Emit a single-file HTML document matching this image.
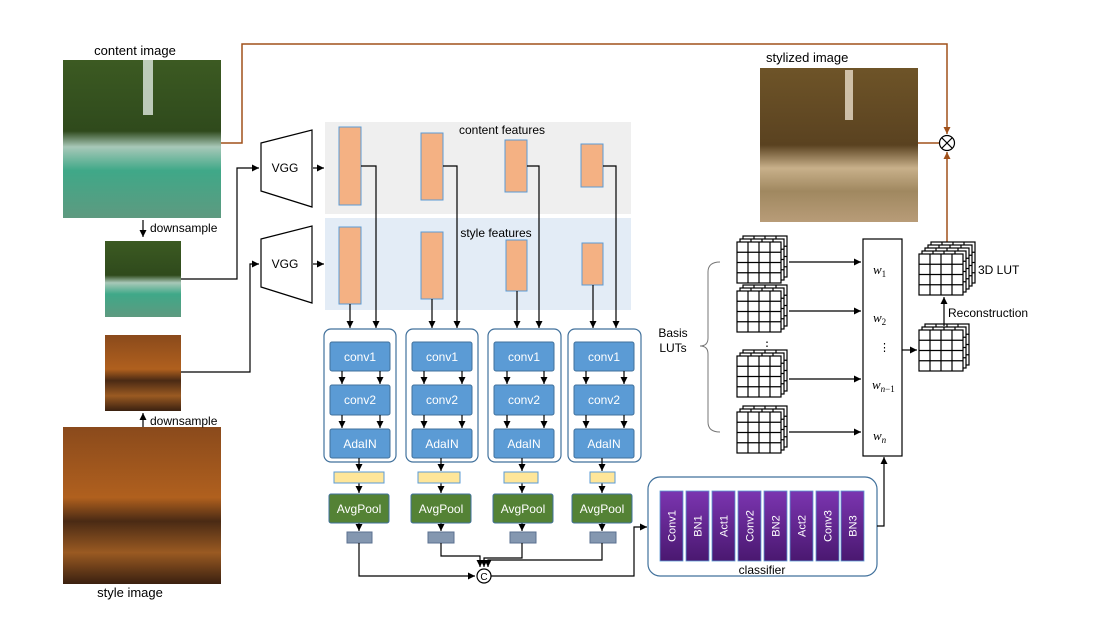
<!DOCTYPE html>
<html><head><meta charset="utf-8"><style>
html,body{margin:0;padding:0;background:#fff;}
svg{display:block;font-family:"Liberation Sans",sans-serif;}
</style></head><body>
<svg width="1116" height="624" viewBox="0 0 1116 624" xmlns="http://www.w3.org/2000/svg">
<defs>
<marker id="a" markerWidth="8" markerHeight="8" refX="7" refY="4" orient="auto" markerUnits="userSpaceOnUse"><path d="M0,0.5 L7,4 L0,7.5z" fill="#000"/></marker>
<marker id="b" markerWidth="8" markerHeight="8" refX="7" refY="4" orient="auto" markerUnits="userSpaceOnUse"><path d="M0,0.5 L7,4 L0,7.5z" fill="#a0501a"/></marker>
<linearGradient id="cimg" x1="0" y1="0" x2="0" y2="1"><stop offset="0" stop-color="#3c5a22"/><stop offset="0.45" stop-color="#2f4a1c"/><stop offset="0.55" stop-color="#a8c8b8"/><stop offset="0.7" stop-color="#3fa888"/><stop offset="1" stop-color="#5e9a80"/></linearGradient>
<linearGradient id="simg" x1="0" y1="0" x2="0" y2="1"><stop offset="0" stop-color="#8a4a1c"/><stop offset="0.45" stop-color="#b0601e"/><stop offset="0.6" stop-color="#4a2a14"/><stop offset="0.8" stop-color="#9a5a22"/><stop offset="1" stop-color="#3a2010"/></linearGradient>
<linearGradient id="timg" x1="0" y1="0" x2="0" y2="1"><stop offset="0" stop-color="#6e5428"/><stop offset="0.5" stop-color="#5a4220"/><stop offset="0.65" stop-color="#c8b08a"/><stop offset="0.8" stop-color="#a08860"/><stop offset="1" stop-color="#b89c78"/></linearGradient>
<linearGradient id="pur" x1="0" y1="0" x2="0" y2="1"><stop offset="0" stop-color="#7b35b0"/><stop offset="1" stop-color="#4a1870"/></linearGradient>
<g id="grid"><rect x="0" y="0" width="44" height="41" fill="#fff" stroke="#000" stroke-width="1.2"/><path d="M11,0V41M22,0V41M33,0V41M0,10.25H44M0,20.5H44M0,30.75H44" stroke="#000" stroke-width="1.2"/></g>
<g id="cube"><use href="#grid" x="6" y="-6"/><use href="#grid" x="3" y="-3"/><use href="#grid" x="0" y="0"/></g>
</defs>

<!-- images -->
<text x="135" y="55" font-size="13" text-anchor="middle">content image</text>
<rect x="63" y="60" width="158" height="158" fill="url(#cimg)"/>
<rect x="143" y="60" width="10" height="55" fill="#dfe8e0" opacity="0.8"/>
<rect x="105" y="241" width="76" height="76" fill="url(#cimg)"/>
<rect x="105" y="335" width="76" height="76" fill="url(#simg)"/>
<rect x="63" y="427" width="158" height="157" fill="url(#simg)"/>
<text x="130" y="597" font-size="13" text-anchor="middle">style image</text>
<line x1="143" y1="220" x2="143" y2="237" stroke="#000" stroke-width="1.2" marker-end="url(#a)"/>
<text x="150" y="232" font-size="12">downsample</text>
<line x1="143" y1="427" x2="143" y2="413" stroke="#000" stroke-width="1.2" marker-end="url(#a)"/>
<text x="150" y="425" font-size="12">downsample</text>

<text x="766" y="62" font-size="13">stylized image</text>
<rect x="760" y="68" width="158" height="154" fill="url(#timg)"/>
<rect x="845" y="70" width="8" height="50" fill="#e8dcc8" opacity="0.8"/>

<!-- brown path -->
<polyline points="221,143 242,143 242,44 947,44 947,134" fill="none" stroke="#a0501a" stroke-width="1.5" marker-end="url(#b)"/>
<line x1="918" y1="143" x2="940" y2="143" stroke="#a0501a" stroke-width="1.5"/>
<line x1="947" y1="248" x2="947" y2="152" stroke="#a0501a" stroke-width="1.5" marker-end="url(#b)"/>
<circle cx="947" cy="143" r="7.5" fill="#fff" stroke="#000" stroke-width="1.2"/>
<path d="M941.7,137.7L952.3,148.3M952.3,137.7L941.7,148.3" stroke="#000" stroke-width="1.1"/>

<!-- inputs to VGG -->
<polyline points="181,279 237,279 237,168 259,168" fill="none" stroke="#000" stroke-width="1.2" marker-end="url(#a)"/>
<polyline points="181,372 250,372 250,264 259,264" fill="none" stroke="#000" stroke-width="1.2" marker-end="url(#a)"/>
<polygon points="261,143 312,130 312,207 261,191" fill="#fff" stroke="#000" stroke-width="1.2"/>
<text x="285" y="172" font-size="12" text-anchor="middle">VGG</text>
<polygon points="261,239 312,226 312,303 261,287" fill="#fff" stroke="#000" stroke-width="1.2"/>
<text x="285" y="268" font-size="12" text-anchor="middle">VGG</text>
<line x1="313" y1="168" x2="324" y2="168" stroke="#000" stroke-width="1.2" marker-end="url(#a)"/>
<line x1="313" y1="264" x2="324" y2="264" stroke="#000" stroke-width="1.2" marker-end="url(#a)"/>

<!-- feature panels -->
<rect x="325" y="122" width="306" height="92" fill="#efefef"/>
<rect x="325" y="218" width="306" height="92" fill="#e3ecf6"/>
<text x="502" y="134" font-size="12" text-anchor="middle">content features</text>
<text x="496" y="237" font-size="12" text-anchor="middle">style features</text>
<g fill="#f4b183" stroke="#5b9bd5" stroke-width="1">
<rect x="339" y="127" width="22" height="78"/><rect x="421" y="133" width="22" height="67"/><rect x="505" y="140" width="22" height="52"/><rect x="581" y="144" width="22" height="43"/>
<rect x="339" y="227" width="22" height="77"/><rect x="421" y="232" width="22" height="67"/><rect x="506" y="240" width="21" height="51"/><rect x="582" y="243" width="21" height="42"/>
</g>
<g fill="none" stroke="#000" stroke-width="1.2" marker-end="url(#a)">
<polyline points="361,166 376,166 376,328"/><polyline points="443,166 457,166 457,328"/><polyline points="527,166 539,166 539,328"/><polyline points="603,166 616,166 616,328"/>
<line x1="350" y1="304" x2="350" y2="328"/><line x1="432" y1="299" x2="432" y2="328"/><line x1="517" y1="291" x2="517" y2="328"/><line x1="593" y1="285" x2="593" y2="328"/>
</g>

<!-- modules -->
<g fill="none" stroke="#41719c" stroke-width="1.2">
<rect x="324" y="329" width="72" height="133" rx="7"/><rect x="406" y="329" width="72" height="133" rx="7"/><rect x="488" y="329" width="73" height="133" rx="7"/><rect x="568" y="329" width="73" height="133" rx="7"/>
</g>
<g fill="#5b9bd5" stroke="#41719c" stroke-width="1">
<rect x="330" y="342" width="60" height="29" rx="2"/><rect x="330" y="385" width="60" height="30" rx="2"/><rect x="330" y="429" width="60" height="29" rx="2"/>
<rect x="412" y="342" width="60" height="29" rx="2"/><rect x="412" y="385" width="60" height="30" rx="2"/><rect x="412" y="429" width="60" height="29" rx="2"/>
<rect x="494" y="342" width="60" height="29" rx="2"/><rect x="494" y="385" width="60" height="30" rx="2"/><rect x="494" y="429" width="60" height="29" rx="2"/>
<rect x="574" y="342" width="60" height="29" rx="2"/><rect x="574" y="385" width="60" height="30" rx="2"/><rect x="574" y="429" width="60" height="29" rx="2"/>
</g>
<g fill="#fff" font-size="12" text-anchor="middle">
<text x="360" y="361">conv1</text><text x="360" y="404">conv2</text><text x="360" y="448">AdaIN</text>
<text x="442" y="361">conv1</text><text x="442" y="404">conv2</text><text x="442" y="448">AdaIN</text>
<text x="524" y="361">conv1</text><text x="524" y="404">conv2</text><text x="524" y="448">AdaIN</text>
<text x="604" y="361">conv1</text><text x="604" y="404">conv2</text><text x="604" y="448">AdaIN</text>
</g>
<g stroke="#000" stroke-width="1.2" marker-end="url(#a)">
<line x1="342" y1="371" x2="342" y2="384"/><line x1="380" y1="371" x2="380" y2="384"/><line x1="342" y1="415" x2="342" y2="428"/><line x1="380" y1="415" x2="380" y2="428"/>
<line x1="424" y1="371" x2="424" y2="384"/><line x1="462" y1="371" x2="462" y2="384"/><line x1="424" y1="415" x2="424" y2="428"/><line x1="462" y1="415" x2="462" y2="428"/>
<line x1="507" y1="371" x2="507" y2="384"/><line x1="544" y1="371" x2="544" y2="384"/><line x1="507" y1="415" x2="507" y2="428"/><line x1="544" y1="415" x2="544" y2="428"/>
<line x1="586" y1="371" x2="586" y2="384"/><line x1="624" y1="371" x2="624" y2="384"/><line x1="586" y1="415" x2="586" y2="428"/><line x1="624" y1="415" x2="624" y2="428"/>
<line x1="359" y1="458" x2="359" y2="471"/><line x1="441" y1="458" x2="441" y2="471"/><line x1="522" y1="458" x2="522" y2="471"/><line x1="602" y1="458" x2="602" y2="471"/>
<line x1="359" y1="483" x2="359" y2="493"/><line x1="441" y1="483" x2="441" y2="493"/><line x1="522" y1="483" x2="522" y2="493"/><line x1="602" y1="483" x2="602" y2="493"/>
<line x1="359" y1="523" x2="359" y2="531"/><line x1="441" y1="523" x2="441" y2="531"/><line x1="522" y1="523" x2="522" y2="531"/><line x1="602" y1="523" x2="602" y2="531"/>
</g>
<g fill="#ffe699" stroke="#5b9bd5" stroke-width="1">
<rect x="334" y="472" width="50" height="11"/><rect x="418" y="472" width="42" height="11"/><rect x="504" y="472" width="34" height="11"/><rect x="590" y="472" width="25" height="11"/>
</g>
<g fill="#548235" stroke="#41719c" stroke-width="1">
<rect x="329" y="494" width="60" height="29" rx="2"/><rect x="411" y="494" width="60" height="29" rx="2"/><rect x="493" y="494" width="60" height="29" rx="2"/><rect x="572" y="494" width="60" height="29" rx="2"/>
</g>
<g fill="#fff" font-size="12" text-anchor="middle">
<text x="359" y="513">AvgPool</text><text x="441" y="513">AvgPool</text><text x="523" y="513">AvgPool</text><text x="602" y="513">AvgPool</text>
</g>
<g fill="#8497b0" stroke="#5b7090" stroke-width="1">
<rect x="347" y="532" width="25" height="11"/><rect x="428" y="532" width="26" height="11"/><rect x="510" y="532" width="26" height="11"/><rect x="590" y="532" width="26" height="11"/>
</g>
<g fill="none" stroke="#000" stroke-width="1.2" marker-end="url(#a)">
<polyline points="359,543 359,576 475,576"/>
<polyline points="441,543 441,556 480,556 480,567"/>
<polyline points="522,543 522,558 484,558 484,567"/>
<polyline points="602,543 602,560 488,560 488,567"/>
<polyline points="491,576 634,576 634,527 647,527"/>
</g>
<circle cx="484" cy="576" r="7" fill="#fff" stroke="#000" stroke-width="1.2"/>
<text x="484" y="580" font-size="10" text-anchor="middle">C</text>

<!-- classifier -->
<rect x="648" y="477" width="229" height="99" rx="12" fill="#fff" stroke="#41719c" stroke-width="1.2"/>
<g fill="url(#pur)" stroke="#5b9bd5" stroke-width="0.8">
<rect x="660" y="491" width="23" height="70"/><rect x="686" y="491" width="23" height="70"/><rect x="712" y="491" width="23" height="70"/><rect x="738" y="491" width="23" height="70"/><rect x="764" y="491" width="23" height="70"/><rect x="790" y="491" width="23" height="70"/><rect x="816" y="491" width="23" height="70"/><rect x="841" y="491" width="23" height="70"/>
</g>
<g fill="#fff" font-size="11" text-anchor="middle">
<text transform="translate(675.5,526) rotate(-90)">Conv1</text><text transform="translate(701.5,526) rotate(-90)">BN1</text><text transform="translate(727.5,526) rotate(-90)">Act1</text><text transform="translate(753.5,526) rotate(-90)">Conv2</text><text transform="translate(779.5,526) rotate(-90)">BN2</text><text transform="translate(805.5,526) rotate(-90)">Act2</text><text transform="translate(831.5,526) rotate(-90)">Conv3</text><text transform="translate(856.5,526) rotate(-90)">BN3</text>
</g>
<text x="762" y="574" font-size="12" text-anchor="middle">classifier</text>
<polyline points="877,526 884,526 884,457" fill="none" stroke="#000" stroke-width="1.2" marker-end="url(#a)"/>

<!-- LUT part -->
<text x="673" y="337" font-size="12" text-anchor="middle">Basis</text>
<text x="673" y="352" font-size="12" text-anchor="middle">LUTs</text>
<path d="M720,262 Q708,262 708,272 L708,338 Q708,346 700,346 Q708,346 708,354 L708,422 Q708,432 720,432" fill="none" stroke="#777" stroke-width="1"/>
<use href="#cube" x="737" y="242"/>
<use href="#cube" x="737" y="291"/>
<text x="767" y="350" font-size="12" text-anchor="middle">⋮</text>
<use href="#cube" x="737" y="356"/>
<use href="#cube" x="737" y="412"/>
<g stroke="#000" stroke-width="1.2" marker-end="url(#a)">
<line x1="789" y1="262" x2="861" y2="262"/><line x1="789" y1="311" x2="861" y2="311"/><line x1="789" y1="379" x2="861" y2="379"/><line x1="789" y1="432" x2="861" y2="432"/>
</g>
<rect x="863" y="239" width="39" height="217" fill="#fff" stroke="#000" stroke-width="1.2"/>
<g font-family="Liberation Serif,serif" font-style="italic" font-size="13">
<text x="873" y="274">w<tspan font-size="9" font-style="normal" dy="3">1</tspan></text>
<text x="873" y="322">w<tspan font-size="9" font-style="normal" dy="3">2</tspan></text>
<text x="879" y="351" font-style="normal" font-size="11">⋮</text>
<text x="872" y="389">w<tspan font-size="9" dy="3">n</tspan><tspan font-size="9" font-style="normal">−1</tspan></text>
<text x="873" y="440">w<tspan font-size="9" dy="3">n</tspan></text>
</g>
<line x1="902" y1="350" x2="917" y2="350" stroke="#000" stroke-width="1.2" marker-end="url(#a)"/>
<use href="#cube" x="919" y="330"/>
<line x1="944" y1="326" x2="944" y2="297" stroke="#000" stroke-width="1.2" marker-end="url(#a)"/>
<text x="948" y="317" font-size="12">Reconstruction</text>
<g transform="translate(919,254)">
<use href="#grid" x="12" y="-12"/><use href="#grid" x="9" y="-9"/><use href="#grid" x="6" y="-6"/><use href="#grid" x="3" y="-3"/><use href="#grid" x="0" y="0"/>
</g>
<text x="978" y="274" font-size="12">3D LUT</text>
</svg>
</body></html>
